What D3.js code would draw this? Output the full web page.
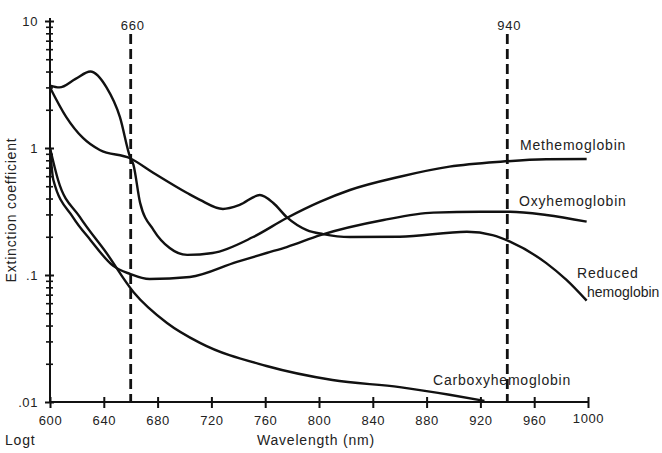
<!doctype html>
<html lang="en">
<head>
<meta charset="utf-8">
<title>Extinction coefficient vs wavelength</title>
<script src="https://cdn.jsdelivr.net/npm/d3@7"></script>
<style>
	body { margin: 0; background: #fff; }
	text { font-family: "Liberation Sans", Arial, sans-serif; fill: #222; }
	.axis path, .axis line { stroke: #111; stroke-width: 2; fill: none; }
	.axis text { font-size: 13px; letter-spacing: 0.6px; }
	.curve { fill: none; stroke: #111; stroke-width: 2.4; stroke-linejoin: round; }
	.marker { stroke: #111; stroke-width: 2.8; stroke-dasharray: 10,5; }
	.lbl { font-size: 14px; letter-spacing: 0.8px; }
</style>
</head>
<body>
<div id="viz"></div>
<script>
// wavelength (nm) / extinction coefficient
var wavelengthTicks = [600, 640, 680, 720, 760, 800, 840, 880, 920, 960, 1000];
var valueTicks = [0.01, 0.1, 1, 10];
var valueTickLabels = [".01", ".1", "1", "10"];
var markerWavelengths = [660, 940];

var methemoglobin = [[600, 3.1], [607, 3.0], [619, 3.5], [630, 4.0], [642, 3.0], [652, 1.75],
	[659.5, 0.85], [662, 0.74], [667, 0.37], [677, 0.226], [689, 0.163], [702, 0.144],
	[721, 0.149], [751, 0.199], [776, 0.281], [801, 0.378], [823, 0.467], [860, 0.594],
	[897, 0.713], [935, 0.78], [969, 0.815], [999, 0.82]];

var reducedHemoglobin = [[600, 3.0], [612, 1.76], [624.5, 1.2], [637, 0.964], [659.5, 0.83],
	[677, 0.636], [702, 0.442], [711.5, 0.39], [728.6, 0.331], [741, 0.356], [756, 0.426],
	[766, 0.369], [776, 0.286], [791, 0.226], [803, 0.21], [823, 0.199], [860, 0.2],
	[910, 0.219], [929, 0.206], [942, 0.183], [969, 0.124], [984, 0.0914], [999, 0.0628]];

var oxyhemoglobin = [[600, 1.0], [602.5, 0.56], [617, 0.286], [630, 0.189], [647, 0.118],
	[659.5, 0.102], [674, 0.093], [704, 0.0965], [739, 0.127], [761, 0.149], [776, 0.166],
	[801, 0.206], [848, 0.271], [885, 0.31], [920, 0.315], [942, 0.315], [969, 0.297],
	[999, 0.263]];

var carboxyhemoglobin = [[600, 1.0], [606, 0.56], [622, 0.288], [642, 0.149], [662, 0.0735],
	[687, 0.0419], [711.5, 0.0292], [761, 0.0192], [810, 0.0149], [860, 0.0131],
	[897, 0.0114], [923, 0.0102]];

(function(d3) {

	var w = 662,
		h = 453;

	var xScale = d3.scaleLinear()
		.domain([600, 1000])
		.range([50, 588]);

	var yScale = d3.scaleLog()
		.domain([0.01, 10])
		.range([402, 21]);

	var svg = d3.select("#viz")
		.append("svg")
		.attr("width", w)
		.attr("height", h)
		.attr("viewBox", "0 0 " + w + " " + h);

	// minor log ticks
	var minorTicks = [];
	[0.01, 0.1, 1].forEach(function(dec) {
		d3.range(2, 10).forEach(function(k) { minorTicks.push(dec * k); });
	});

	var yMinor = svg.append("g")
		.attr("class", "axis")
		.attr("transform", "translate(50,0)")
		.call(d3.axisLeft(yScale).tickValues(minorTicks).tickSize(4).tickFormat(""));
	yMinor.selectAll(".tick line").attr("x1", 3).style("stroke-width", 1.6);
	yMinor.select(".domain").remove();

	var yAxis = svg.append("g")
		.attr("class", "axis")
		.attr("transform", "translate(50,0)")
		.call(d3.axisLeft(yScale)
			.tickValues(valueTicks)
			.tickSize(5)
			.tickPadding(7)
			.tickFormat(function(d, i) { return valueTickLabels[i]; }));
	yAxis.selectAll(".tick line").attr("x1", 4);
	yAxis.select(".domain").attr("d", "M0," + (yScale(10) - 3) + "V" + yScale(0.01));

	var xAxis = svg.append("g")
		.attr("class", "axis")
		.attr("transform", "translate(0," + yScale(0.01) + ")")
		.call(d3.axisBottom(xScale)
			.tickValues(wavelengthTicks)
			.tickSize(6)
			.tickPadding(8)
			.tickFormat(d3.format("d")));
	xAxis.selectAll(".tick line").attr("y1", -5);
	xAxis.select(".domain").attr("d", "M" + xScale(600) + ",0H" + xScale(1000));
	xAxis.selectAll(".tick text")
		.filter(function(d) { return d === 1000; })
		.attr("dy", "0.5em");

	// dashed wavelength markers
	svg.selectAll("line.marker")
		.data(markerWavelengths)
		.enter()
		.append("line")
		.attr("class", "marker")
		.attr("x1", d => xScale(d))
		.attr("x2", d => xScale(d))
		.attr("y1", 34)
		.attr("y2", yScale(0.01));

	svg.selectAll("text.mlabel")
		.data(markerWavelengths)
		.enter()
		.append("text")
		.attr("class", "lbl")
		.attr("x", d => xScale(d) + 2)
		.attr("y", 30)
		.attr("text-anchor", "middle")
		.style("font-size", "13px")
		.text(d => d);

	var line = d3.line()
		.x(d => xScale(d[0]))
		.y(d => yScale(d[1]))
		.curve(d3.curveMonotoneX);

	svg.selectAll("path.curve")
		.data([methemoglobin, reducedHemoglobin, oxyhemoglobin, carboxyhemoglobin])
		.enter()
		.append("path")
		.attr("class", "curve")
		.attr("d", d => line(d));

	// curve labels
	var labels = [
		["Methemoglobin", 520, 150],
		["Oxyhemoglobin", 519, 206],
		["Reduced", 577, 278],
		["hemoglobin", 587, 297],
		["Carboxyhemoglobin", 433, 385]
	];
	svg.selectAll("text.clabel")
		.data(labels)
		.enter()
		.append("text")
		.attr("class", "lbl")
		.attr("x", d => d[1])
		.attr("y", d => d[2])
		.style("letter-spacing", d => d[0] === "hemoglobin" ? "0px" : null)
		.text(d => d[0]);

	svg.append("text")
		.attr("class", "lbl")
		.attr("x", 316)
		.attr("y", 445)
		.attr("text-anchor", "middle")
		.text("Wavelength (nm)");

	svg.append("text")
		.attr("class", "lbl")
		.attr("x", 5)
		.attr("y", 445)
		.text("Logt");

	svg.append("text")
		.attr("class", "lbl")
		.attr("transform", "translate(16,210) rotate(-90)")
		.attr("text-anchor", "middle")
		.text("Extinction coefficient");

})(d3);
</script>
</body>
</html>
